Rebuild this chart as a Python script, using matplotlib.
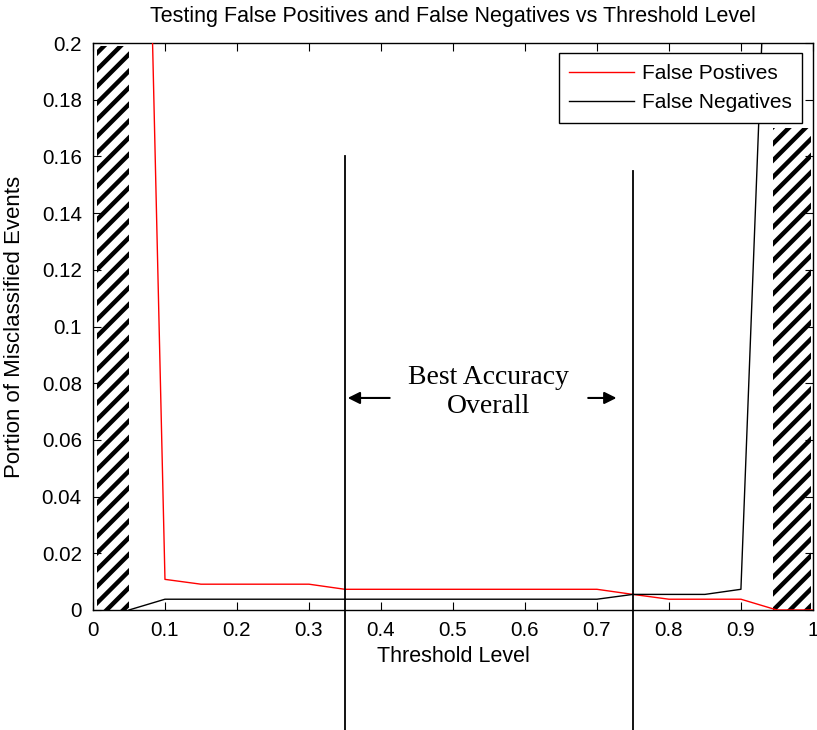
import matplotlib
matplotlib.use("Agg")
import matplotlib.pyplot as plt
from matplotlib.patches import Rectangle
from matplotlib.ticker import FuncFormatter, MultipleLocator

plt.rcParams["font.family"] = ["Liberation Sans", "DejaVu Sans"]
plt.rcParams["hatch.linewidth"] = 3.2

# threshold sweep results
thresholds = [0.05, 0.10, 0.15, 0.20, 0.25, 0.30, 0.35, 0.40, 0.45, 0.50,
              0.55, 0.60, 0.65, 0.70, 0.75, 0.80, 0.85, 0.90, 0.95, 1.00]
false_pos = [0.56, 0.0108, 0.0091, 0.0091, 0.0091, 0.0091, 0.0073, 0.0073, 0.0073, 0.0073,
             0.0073, 0.0073, 0.0073, 0.0073, 0.0055, 0.0038, 0.0038, 0.0038, 0.0, 0.0]
false_neg = [0.0, 0.0038, 0.0038, 0.0038, 0.0038, 0.0038, 0.0038, 0.0038, 0.0038, 0.0038,
             0.0038, 0.0038, 0.0038, 0.0038, 0.0055, 0.0055, 0.0055, 0.0073, 0.34, 0.34]

# excluded threshold bands (x0, x1, top)
bands = [(0.005, 0.05, 0.199), (0.945, 0.997, 0.17)]
best_lo, best_hi = 0.35, 0.75

fig = plt.figure(figsize=(8.17, 7.30), dpi=100)
ax = fig.add_axes([0.1138, 0.1644, 0.8812, 0.7766])

for x0, x1, top in bands:
    ax.add_patch(Rectangle((x0, 0), x1 - x0, top, facecolor="white",
                           edgecolor="black", hatch="//", linewidth=0, zorder=1))

ax.plot(thresholds, false_pos, color="red", lw=1.0, label="False Postives", zorder=3)
ax.plot(thresholds, false_neg, color="black", lw=1.0, label="False Negatives", zorder=3)

# region of best accuracy
for xv, ytop in [(best_lo, 0.16), (best_hi, 0.155)]:
    ax.plot([xv, xv], [-0.045, ytop], color="black", lw=1.3, clip_on=False, zorder=4)
ax.annotate("", xy=(best_lo, 0.0748), xytext=(0.416, 0.0748),
            arrowprops=dict(arrowstyle="-|>", color="black", lw=1.5, mutation_scale=18))
ax.annotate("", xy=(0.731, 0.0748), xytext=(0.684, 0.0748),
            arrowprops=dict(arrowstyle="-|>", color="black", lw=1.5, mutation_scale=18))
ax.text(0.549, 0.0769, "Best Accuracy\nOverall", ha="center", va="center",
        family=["Liberation Serif", "DejaVu Serif"], fontsize=20, linespacing=1.25)

ax.set_xlim(0, 1)
ax.set_ylim(0, 0.2)
ax.xaxis.set_major_locator(MultipleLocator(0.1))
ax.yaxis.set_major_locator(MultipleLocator(0.02))
fmt = FuncFormatter(lambda v, pos: "%g" % round(v, 4))
ax.xaxis.set_major_formatter(fmt)
ax.yaxis.set_major_formatter(fmt)
ax.tick_params(direction="in", top=True, right=True, length=6, width=0.8,
               labelsize=14.8)
ax.tick_params(axis="x", pad=8)
ax.tick_params(axis="y", pad=8)
for s in ax.spines.values():
    s.set_linewidth(1.0)

ax.set_title("Testing False Positives and False Negatives vs Threshold Level",
             fontsize=15.5, pad=15)
ax.set_xlabel("Threshold Level", fontsize=15.5, labelpad=4)
ax.set_ylabel("Portion of Misclassified Events", fontsize=16)
ax.yaxis.set_label_coords(-0.094, 0.5)

leg = ax.legend(loc="upper right", fontsize=15, handlelength=3.1,
                handletextpad=0.4, fancybox=False, framealpha=1, edgecolor="black",
                borderaxespad=0.5, borderpad=0.5, labelspacing=0.5)
leg.get_frame().set_linewidth(1.0)
leg.set_zorder(5)

fig.savefig("out.png", dpi=100)
